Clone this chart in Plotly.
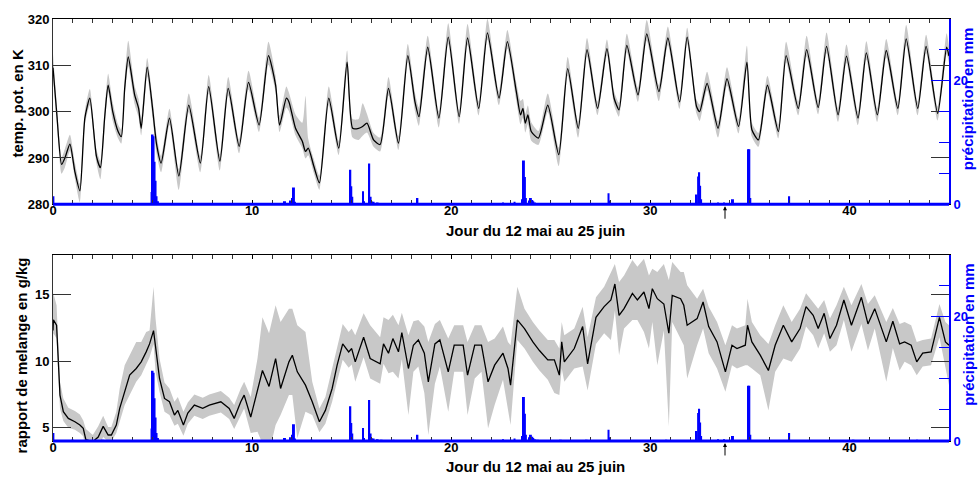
import plotly.graph_objects as go

# ---------------- data ----------------
# potential temperature (K): day, value, band width above, band width below
temp_day = [0.0, 0.2, 0.43, 0.6, 0.85, 1.1, 1.35, 1.6, 1.85, 2.18, 2.38, 2.6, 2.77, 3.0, 3.27, 3.43,
            3.6, 3.78, 4.1, 4.3, 4.43, 4.73, 5.0, 5.2, 5.43, 5.85, 6.32, 6.82, 7.4, 7.82, 8.38, 8.8,
            9.35, 9.82, 10.35, 10.82, 11.18, 11.38, 11.72, 11.85, 12.18, 12.52, 12.68, 12.82, 13.1,
            13.38, 13.85, 14.35, 14.77, 15.05, 15.35, 15.55, 15.77, 16.1, 16.43, 16.85, 17.35, 17.82,
            18.18, 18.38, 18.82, 19.38, 19.85, 20.4, 20.82, 21.38, 21.82, 22.4, 22.82, 23.27, 23.48,
            23.6, 23.72, 23.85, 24.02, 24.38, 24.85, 25.4, 25.85, 26.38, 26.82, 27.35, 27.82, 28.18,
            28.43, 28.82, 29.38, 29.82, 30.43, 30.88, 31.47, 31.85, 32.32, 32.48, 32.85, 33.4, 33.85,
            34.43, 34.85, 35.1, 35.43, 35.88, 36.43, 36.82, 37.43, 37.85, 38.43, 38.85, 39.43, 39.85,
            40.43, 40.85, 41.4, 41.85, 42.43, 42.85, 43.43, 43.85, 44.43, 44.88, 45.0]
temp_val = [309.5, 299.0, 288.6, 290.0, 293.0, 287.0, 282.9, 298.6, 302.9, 290.4, 287.9, 299.0, 305.7,
            300.0, 295.7, 294.6, 305.0, 311.8, 303.6, 300.7, 296.4, 309.6, 300.7, 293.0, 288.9, 298.6,
            286.1, 301.4, 288.9, 305.4, 289.3, 305.0, 292.5, 306.3, 297.1, 312.1, 305.7, 297.1, 302.9,
            302.1, 296.4, 293.6, 291.4, 292.1, 288.2, 284.6, 302.9, 292.1, 310.7, 296.4, 296.4, 296.8,
            297.5, 293.9, 292.9, 305.0, 293.2, 312.1, 302.1, 298.9, 313.9, 298.6, 316.1, 298.9, 315.9,
            300.7, 317.0, 302.9, 315.1, 304.3, 299.3, 300.7, 297.5, 299.3, 295.7, 294.3, 301.4, 290.7,
            309.3, 296.4, 313.4, 300.7, 313.6, 302.9, 300.4, 314.3, 303.6, 316.8, 304.3, 315.9, 302.1,
            316.1, 301.1, 300.0, 306.1, 296.4, 307.1, 296.8, 310.7, 296.1, 293.9, 305.7, 295.7, 312.1,
            300.7, 313.4, 300.9, 314.1, 299.3, 312.0, 298.6, 312.7, 299.3, 313.2, 300.7, 315.7, 300.7,
            314.1, 299.6, 313.9, 312.0]
temp_up = [3, 2, 1.5, 2, 2, 2, 1.5, 1.5, 2, 1.5, 1.5, 2, 2.5, 2, 1.5, 1.5,
           2, 3.5, 2, 2, 2, 2, 2, 2, 1.5, 2, 1.5, 2.5, 1.5, 2.5, 1.5, 2.5,
           1.5, 2.5, 1.5, 3, 2, 2, 2.5, 2, 3, 4, 12, 2, 1.5,
           1.5, 2.5, 1.5, 2.5, 2, 2, 5, 2, 1.5, 1.5, 2.5, 1.5, 2.5,
           2, 2, 2.5, 1.5, 3, 1.5, 3, 1.5, 3, 1.5, 2.5, 2, 3,
           2, 2, 2, 2, 1.5, 2.5, 1.5, 2.5, 1.5, 2.5, 1.5, 2, 1.5,
           1.5, 2.5, 1.5, 3, 1.5, 2.5, 1.5, 2, 1.5, 1.5, 2.5, 1.5, 2.5,
           1.5, 3.5, 1.5, 1.5, 2, 1.5, 3, 1.5, 3, 1.5, 3, 1.5, 2.5,
           1.5, 2.5, 1.5, 2.5, 1.5, 3, 1.5, 2.5, 1.5, 3, 2]
temp_dn = [2, 2, 2, 2, 1.5, 1.5, 2.5, 1.5, 1.5, 1.5, 2.5, 2, 1.5, 2, 1.5, 1.5,
           2, 2, 2, 2, 1.5, 2, 2, 2, 2, 1.5, 3, 1.5, 2, 1.5, 2, 1.5,
           1.5, 1.5, 1.5, 2, 1.5, 1.5, 2, 2, 1.5, 1.5, 1.5, 1.5, 1.5,
           1.5, 1.5, 1.5, 2, 2, 2.5, 2, 2, 1.5, 1.5, 1.5, 1.5, 1.5,
           2, 2, 1.5, 2, 1.5, 1.5, 1.5, 1.5, 1.5, 1.5, 1.5, 2, 2,
           2, 2, 2, 2, 1.5, 1.5, 2.5, 1.5, 2, 1.5, 1.5, 1.5, 1.5,
           1.5, 1.5, 1.5, 1.5, 2, 1.5, 1.5, 1.5, 1.5, 2, 1.5, 2, 1.5,
           1.5, 1.5, 1.5, 1.5, 1.5, 1.5, 1.5, 1.5, 1.5, 1.5, 1.5, 1.5, 1.5,
           1.5, 1.5, 1.5, 1.5, 1.5, 1.5, 1.5, 1.5, 1.5, 1.5, 1.5]

# mixing ratio (g/kg): day, value, band width above, band width below
mix_day = [0.0, 0.02, 0.18, 0.27, 0.35, 0.52, 0.77, 1.1, 1.35, 1.52, 1.65, 2.0, 2.27, 2.52, 2.77, 2.93,
           3.18, 3.35, 3.6, 3.85, 4.18, 4.43, 4.68, 4.85, 5.05, 5.15, 5.35, 5.6, 5.85, 6.1, 6.27, 6.55,
           6.77, 7.1, 7.52, 7.85, 8.43, 8.85, 9.1, 9.43, 9.6, 9.93, 10.27, 10.52, 10.85, 11.18, 11.43,
           11.85, 12.02, 12.27, 12.68, 13.02, 13.38, 13.68, 14.02, 14.27, 14.55, 14.85, 15.0, 15.18,
           15.6, 15.93, 16.43, 16.6, 16.85, 17.07, 17.35, 17.52, 17.85, 18.1, 18.35, 18.65, 18.85,
           19.18, 19.43, 19.85, 20.15, 20.6, 20.82, 21.18, 21.52, 21.85, 22.18, 22.6, 22.85, 22.98,
           23.32, 23.68, 24.1, 24.43, 24.85, 25.18, 25.43, 25.55, 25.68, 26.18, 26.6, 26.85, 27.27,
           27.68, 28.02, 28.22, 28.43, 28.68, 29.1, 29.35, 29.68, 29.93, 30.1, 30.35, 30.68, 30.93,
           31.1, 31.52, 31.68, 31.85, 32.35, 32.65, 32.93, 33.35, 33.77, 34.1, 34.35, 34.77, 34.88,
           35.1, 35.52, 35.93, 36.27, 36.68, 37.1, 37.52, 37.82, 38.18, 38.43, 38.73, 39.02, 39.35,
           39.72, 40.1, 40.6, 40.93, 41.27, 41.85, 42.18, 42.52, 42.77, 43.1, 43.38, 43.68, 44.1,
           44.52, 44.82, 45.0]
mix_val = [12.3, 13.1, 12.7, 9.95, 7.45, 6.2, 5.7, 5.45, 5.2, 4.95, 4.1, 3.95, 4.3, 5.1, 4.45, 4.45,
           5.2, 6.45, 7.7, 8.95, 9.45, 9.95, 10.7, 11.3, 12.3, 11.2, 8.7, 7.2, 6.95, 5.95, 6.3, 5.2,
           6.1, 6.7, 6.45, 6.7, 6.95, 6.45, 5.7, 6.95, 7.45, 5.8, 7.7, 9.3, 8.1, 10.2, 7.95,
           9.95, 10.45, 9.2, 8.2, 6.95, 5.45, 6.3, 7.95, 9.7, 11.3, 10.7, 10.95, 9.95,
           11.8, 10.2, 9.8, 11.3, 10.6, 11.7, 10.7, 12.15, 9.45, 11.2, 11.6, 10.6, 8.45,
           11.3, 11.6, 9.2, 11.2, 11.2, 8.95, 11.2, 11.2, 8.45, 9.7, 10.6, 9.45, 8.2,
           13.1, 12.45, 11.45, 10.8, 10.1, 10.1, 8.95, 11.45, 9.95, 10.95, 12.6, 9.8, 13.3,
           14.1, 14.6, 15.8, 13.45, 13.95, 15.1, 14.6, 15.2, 13.95, 15.45, 14.7, 14.3, 12.1,
           14.95, 14.7, 14.2, 12.7, 13.2, 14.45, 12.6, 11.45, 9.2, 11.2, 10.95, 11.2, 12.7,
           11.45, 10.45, 9.3, 11.2, 12.7, 11.45, 12.45, 14.1, 13.45, 12.45, 13.6, 11.7, 12.7,
           14.6, 12.7, 14.8, 12.8, 13.95, 11.45, 13.0, 11.3, 11.45, 11.2, 9.95, 10.6, 10.7,
           13.3, 11.45, 11.2]
mix_up = [2.5, 2, 1.5, 1.5, 1, 1, 0.8, 0.8, 0.8, 0.6, 0.8, 0.5, 0.8, 0.8, 0.6, 0.6,
          1, 1.5, 2, 1.5, 2, 1.5, 1.5, 1, 3.3, 2, 1.5, 1.2, 1, 1, 1, 1,
          0.8, 0.8, 0.8, 0.8, 0.8, 0.8, 1, 1, 1, 1.5, 2.5, 4, 4, 4, 5,
          4, 3.5, 3.5, 4, 1.5, 1, 1, 1.5, 1.5, 1.5, 1.5, 1.5, 2,
          1.8, 2.5, 2, 2, 2.5, 1.8, 2, 1.5, 2.5, 1.8, 1.5, 2, 3,
          1.5, 1.5, 2.5, 1.5, 1.5, 2.5, 1.5, 1.5, 3, 2, 2, 2, 3,
          2.5, 1.5, 1.5, 1.5, 1.5, 1.5, 2, 1.5, 2, 1.5, 1.5, 2, 1.5,
          1.5, 2, 1.5, 2.5, 2.5, 2.5, 2.5, 2.5, 2.5, 1.5, 2, 3, 4,
          2.5, 2, 2.5, 3, 1.5, 1, 1.5, 1.5, 2, 1.5, 1.5, 1.5, 2,
          1.5, 1.5, 2, 1.5, 1.5, 1.5, 1.5, 1, 1, 1.5, 1, 1.5, 1.5,
          1, 1.5, 1, 1.5, 1, 1.5, 1, 1.5, 1.5, 1.5, 1.5, 1, 1,
          1, 1.5, 1.5]
mix_dn = [1, 1, 1, 1.5, 1, 0.7, 0.7, 0.6, 0.6, 0.6, 0.8, 1, 0.8, 0.8, 0.5, 0.5,
          0.6, 1, 1, 1.5, 1, 1, 1, 1, 1, 2, 1, 1, 1, 0.8, 1, 0.8,
          0.8, 0.8, 0.8, 0.8, 0.8, 0.8, 0.8, 1, 1, 1.2, 3, 5.5, 5, 5, 2,
          2.5, 3, 5, 2, 1, 0.8, 1, 1, 1.2, 1.2, 1.2, 1.2, 1.5,
          1.5, 1.5, 1.5, 1.5, 1.5, 2.5, 2, 2, 3.5, 2, 2, 3, 4,
          3, 2, 3, 2, 2, 3, 2.5, 2, 3.5, 3, 2, 3, 3,
          1.5, 1.5, 1.5, 1.5, 1.5, 2.5, 1.5, 2, 1.5, 1.5, 3, 2, 2,
          2, 3, 2, 3, 1.5, 2, 1.5, 3, 3, 2.5, 5, 2, 7,
          2, 3, 3, 4, 2, 2, 2, 2, 1.5, 1.5, 1.5, 1.5, 3,
          2, 1.5, 3, 2, 2.5, 1.5, 1.5, 1.5, 1.5, 1.5, 1.5, 1, 1.5,
          1.5, 2, 2, 2, 1.5, 3, 2, 2, 1.5, 1.5, 1, 1, 1,
          1.5, 2, 3]

# precipitation (mm)
rain_day = [0.02, 1.0, 2.5, 4.95, 5.0, 5.05, 5.1, 5.15, 5.2, 5.27, 8.0, 11.65, 11.95, 12.02, 12.1,
            12.15, 13.0, 14.93, 14.98, 15.03, 15.57, 15.62, 15.88, 15.95, 16.0, 16.1, 16.3, 16.5,
            17.1, 18.3, 19.0, 21.1, 22.6, 23.18, 23.6, 23.65, 23.7, 23.75, 23.95, 24.0, 24.07,
            24.12, 24.2, 24.35, 25.5, 26.8, 27.9, 27.95, 30.8, 32.32, 32.4, 32.45, 32.5, 32.55,
            33.4, 33.7, 34.15, 34.92, 34.97, 35.02, 36.97, 40.2, 43.4]
rain_mm = [1.3, 0.1, 0.1, 2.0, 11.3, 11.0, 6.9, 3.8, 1.3, 0.5, 0.1, 0.5, 0.6, 1.0, 2.7,
           0.4, 0.2, 5.6, 2.9, 1.2, 2.1, 0.5, 6.6, 1.2, 0.5, 0.4, 0.3, 0.2,
           0.2, 1.0, 0.2, 0.2, 0.3, 0.4, 0.8, 7.1, 4.4, 1.0, 0.6, 1.0, 0.7,
           0.5, 0.3, 0.2, 0.2, 0.2, 1.8, 0.6, 0.1, 1.6, 4.5, 5.2, 3.0, 0.8,
           0.3, 0.3, 0.8, 8.9, 8.9, 1.0, 1.3, 0.1, 0.2]

temp_ticks = [280, 290, 300, 310, 320]
mix_ticks = [5, 10, 15]
day_ticks = [0, 10, 20, 30, 40]

# ---------------- figure ----------------
FONT = "Liberation Sans, Arial, sans-serif"
BLUE = "#0000ff"
GRAY = "#c8c8c8"

temp_hi = [v + u for v, u in zip(temp_val, temp_up)]
temp_lo = [v - d for v, d in zip(temp_val, temp_dn)]
mix_hi = [v + u for v, u in zip(mix_val, mix_up)]
mix_lo = [v - d for v, d in zip(mix_val, mix_dn)]

fig = go.Figure()

# top panel
fig.add_trace(go.Scatter(x=temp_day, y=temp_lo, mode="lines", line=dict(width=0, shape="spline", smoothing=0.6),
                         xaxis="x", yaxis="y", showlegend=False, hoverinfo="skip"))
fig.add_trace(go.Scatter(x=temp_day, y=temp_hi, mode="lines", line=dict(width=0, shape="spline", smoothing=0.6),
                         fill="tonexty", fillcolor=GRAY, xaxis="x", yaxis="y", showlegend=False, hoverinfo="skip"))
fig.add_trace(go.Scatter(x=temp_day, y=temp_val, mode="lines", line=dict(color="black", width=1.3, shape="spline", smoothing=0.6),
                         xaxis="x", yaxis="y", showlegend=False))
fig.add_trace(go.Bar(x=rain_day, y=rain_mm, width=0.1, marker=dict(color=BLUE, line=dict(width=0)),
                     xaxis="x", yaxis="y2", showlegend=False))

# bottom panel
fig.add_trace(go.Scatter(x=mix_day, y=mix_lo, mode="lines", line=dict(width=0),
                         xaxis="x2", yaxis="y3", showlegend=False, hoverinfo="skip"))
fig.add_trace(go.Scatter(x=mix_day, y=mix_hi, mode="lines", line=dict(width=0),
                         fill="tonexty", fillcolor=GRAY, xaxis="x2", yaxis="y3", showlegend=False, hoverinfo="skip"))
fig.add_trace(go.Scatter(x=mix_day, y=mix_val, mode="lines", line=dict(color="black", width=1.3),
                         xaxis="x2", yaxis="y3", showlegend=False))
fig.add_trace(go.Bar(x=rain_day, y=rain_mm, width=0.1, marker=dict(color=BLUE, line=dict(width=0)),
                     xaxis="x2", yaxis="y4", showlegend=False))

tickfont = dict(family=FONT, size=13, color="black", weight="bold")
bluefont = dict(family=FONT, size=13, color=BLUE, weight="bold")

def xax(anchor):
    return dict(domain=[0, 1], anchor=anchor, range=[0, 45], tickvals=day_ticks,
                ticks="inside", ticklen=4, tickcolor="black", tickfont=tickfont,
                minor=dict(dtick=1, ticks="inside", ticklen=3, tickcolor="#333"),
                showline=True, linecolor="black", linewidth=1, mirror="allticks",
                showgrid=False, zeroline=False, ticklabelstandoff=-6)

def yleft(domain, rng, vals):
    return dict(domain=domain, range=rng, tickvals=vals, ticks="inside", ticklen=18,
                tickcolor="#333", tickfont=tickfont, showline=True, linecolor="#333",
                linewidth=1, mirror="ticks", showgrid=False, zeroline=False)

def yright(over, anchor):
    return dict(overlaying=over, anchor=anchor, side="right", range=[0, 30], tick0=0, dtick=20,
                ticks="inside", ticklen=18, tickcolor=BLUE, tickfont=bluefont,
                minor=dict(dtick=5, ticks="inside", ticklen=10, tickcolor=BLUE),
                showline=True, linecolor=BLUE, linewidth=2, showgrid=False, zeroline=False)

top_dom = [0.561, 1.0]
bot_dom = [0.0, 0.4413]

fig.update_layout(
    width=980, height=478,
    margin=dict(l=53, r=27, t=15, b=37),
    paper_bgcolor="white", plot_bgcolor="white",
    font=dict(family=FONT, size=13, color="black"),
    barmode="overlay",
    xaxis=xax("y"),
    xaxis2=xax("y3"),
    yaxis=yleft(top_dom, [280, 320], temp_ticks),
    yaxis2=yright("y", "x"),
    yaxis3=yleft(bot_dom, [4, 18], mix_ticks),
    yaxis4=yright("y3", "x2"),
    showlegend=False,
)

# blue baselines along the bottom of each panel
for xr, yr in (("x domain", "y domain"), ("x2 domain", "y3 domain")):
    fig.add_shape(type="line", xref=xr, yref=yr, x0=0, x1=1, y0=0, y1=0,
                  line=dict(color=BLUE, width=3), layer="above")

def ann(text, x, y, color="black", angle=0, size=15):
    fig.add_annotation(text=text, x=x, y=y, xref="paper", yref="paper", showarrow=False,
                       textangle=angle, font=dict(family=FONT, size=size, color=color, weight="bold"),
                       xanchor="center", yanchor="middle")

ann("temp. pot. en K", -0.040, 0.800, angle=-90)
ann("précipitation en mm", 1.021, 0.812, color=BLUE, angle=-90)
ann("Jour du 12 mai au 25 juin", 0.538, 0.500)
ann("rapport de melange en g/kg", -0.035, 0.202, angle=-90)
ann("précipitation en mm", 1.021, 0.2535, color=BLUE, angle=-90)
ann("Jour du 12 mai au 25 juin", 0.538, -0.060)

# arrows under the x axes
for yv in (0.5563, -0.0047):
    fig.add_annotation(x=33.75, y=yv, xref="x", yref="paper", text="", showarrow=True,
                       ax=0, ay=14, arrowhead=2, arrowsize=0.8, arrowwidth=1, arrowcolor="black")

fig.write_html("out.html")
